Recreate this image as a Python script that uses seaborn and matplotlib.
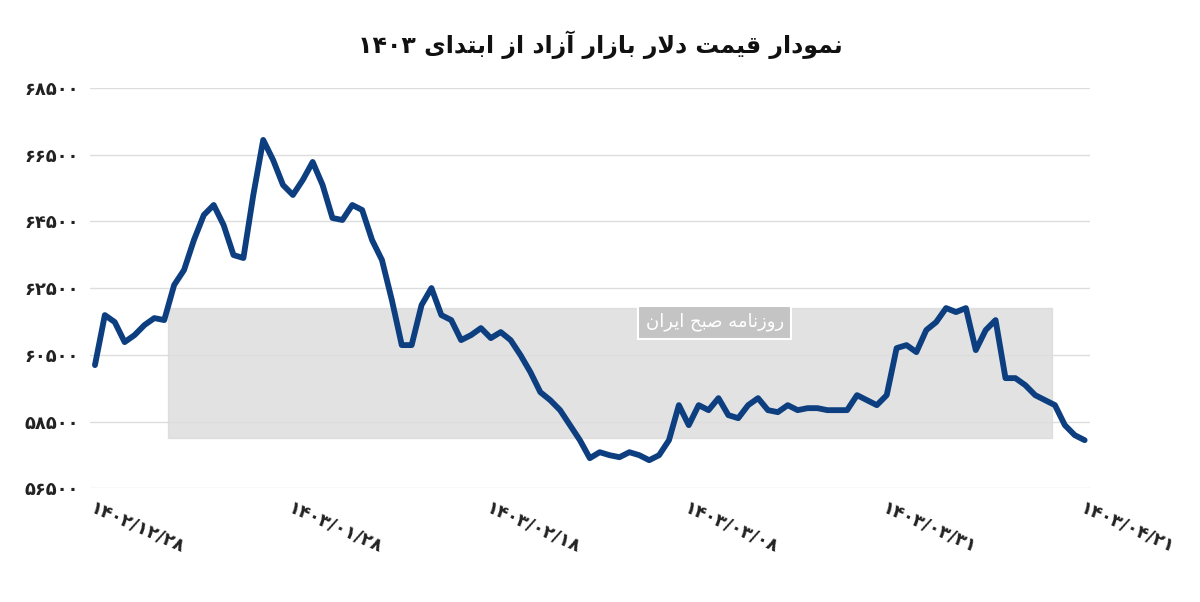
import numpy as np
import pandas as pd
import matplotlib
matplotlib.use("Agg")
import matplotlib.pyplot as plt
import seaborn as sns

# free-market dollar price (rial), trading days from 1402/12/28
price = [60190, 61690, 61480, 60880, 61090, 61390, 61600, 61540, 62590, 63040,
         63940, 64690, 64990, 64390, 63490, 63400, 65290, 66940, 66340, 65590,
         65290, 65740, 66280, 65590, 64600, 64540, 64990, 64840, 63940, 63340,
         62140, 60790, 60790, 61990, 62500, 61690, 61540, 60940, 61090, 61300,
         61000, 61180, 60940, 60490, 59980, 59380, 59140, 58840, 58390, 57940,
         57400, 57580, 57490, 57430, 57580, 57490, 57340, 57490, 57940, 58990,
         58390, 58990, 58840, 59200, 58690, 58600, 58990, 59200, 58840, 58780,
         58990, 58840, 58900, 58900, 58840, 58840, 58840, 59290, 59140, 58990,
         59290, 60700, 60790, 60580, 61240, 61480, 61900, 61780, 61900, 60640,
         61240, 61540, 59800, 59800, 59590, 59290, 59140, 58990, 58390, 58090,
         57940]
date_labels = ["۱۴۰۲/۱۲/۲۸", "۱۴۰۳/۰۱/۲۸", "۱۴۰۳/۰۲/۱۸",
               "۱۴۰۳/۰۳/۰۸", "۱۴۰۳/۰۳/۳۱", "۱۴۰۳/۰۴/۲۱"]
y_ticks = list(range(56500, 68501, 2000))

# minimal arabic shaping (matplotlib has no bidi / joining)
FORMS = {
    "ا": ("\uFE8D", "\uFE8E", None, None), "آ": ("\uFE81", "\uFE82", None, None),
    "ب": ("\uFE8F", "\uFE90", "\uFE91", "\uFE92"), "ت": ("\uFE95", "\uFE96", "\uFE97", "\uFE98"),
    "ح": ("\uFEA1", "\uFEA2", "\uFEA3", "\uFEA4"), "د": ("\uFEA9", "\uFEAA", None, None),
    "ر": ("\uFEAD", "\uFEAE", None, None), "ز": ("\uFEAF", "\uFEB0", None, None),
    "ص": ("\uFEB9", "\uFEBA", "\uFEBB", "\uFEBC"), "ق": ("\uFED5", "\uFED6", "\uFED7", "\uFED8"),
    "ل": ("\uFEDD", "\uFEDE", "\uFEDF", "\uFEE0"), "م": ("\uFEE1", "\uFEE2", "\uFEE3", "\uFEE4"),
    "ن": ("\uFEE5", "\uFEE6", "\uFEE7", "\uFEE8"), "ه": ("\uFEE9", "\uFEEA", "\uFEEB", "\uFEEC"),
    "و": ("\uFEED", "\uFEEE", None, None), "ی": ("\uFBFC", "\uFBFD", "\uFBFE", "\uFBFF"),
}


def shape_word(w):
    out = []
    i = 0
    while i < len(w):
        c = w[i]
        prev = w[i - 1] if i > 0 else None
        pj = prev in FORMS and FORMS[prev][2] is not None
        if c == "ل" and i + 1 < len(w) and w[i + 1] == "ا":
            out.append("\uFEFC" if pj else "\uFEFB")
            i += 2
            continue
        if c not in FORMS:
            out.append(c)
            i += 1
            continue
        nxt = w[i + 1] if i + 1 < len(w) else None
        nj = nxt in FORMS and FORMS[c][2] is not None
        iso, fin, ini, med = FORMS[c]
        if pj and nj:
            out.append(med)
        elif pj:
            out.append(fin)
        elif nj:
            out.append(ini)
        else:
            out.append(iso)
        i += 1
    return "".join(out)


def rtl(text):
    words = text.split(" ")
    vis = []
    for w in words:
        if w and "\u06F0" <= w[0] <= "\u06F9":
            vis.append(w)
        else:
            vis.append(shape_word(w)[::-1])
    return " ".join(vis[::-1])


sns.set_style("white")
plt.rcParams["font.family"] = ["DejaVu Sans", "Noto Sans"]

df = pd.DataFrame({"day": np.arange(len(price)), "price": price})

fig = plt.figure(figsize=(12, 6.02), dpi=100)
ax = fig.add_axes([0.075, 0.189, 0.833, 0.665])

# watermark band
ax.axhspan(58000, 61900, xmin=0.078, xmax=0.962, color="#d9d9d9", alpha=0.75, zorder=0)
ax.text(0.625, 0.415, rtl("روزنامه صبح ایران"), transform=ax.transAxes, ha="center",
        va="center", fontsize=13, color="white",
        bbox=dict(boxstyle="square,pad=0.4", fc="#c4c4c4", ec="white", lw=1.5), zorder=1)

sns.lineplot(data=df, x="day", y="price", ax=ax, color="#0d3f80", linewidth=4.2, zorder=3)
ax.lines[-1].set_solid_joinstyle("round")
ax.lines[-1].set_solid_capstyle("round")

ax.set_ylim(56500, 68500)
ax.set_xlim(-0.5, len(price) - 0.5)
ax.set_yticks(y_ticks)
fa = str.maketrans("0123456789", "۰۱۲۳۴۵۶۷۸۹")
ax.set_yticklabels([str(v).translate(fa) for v in y_ticks], fontsize=13, fontweight="bold",
                   color="#222222")
ax.yaxis.grid(True, color="#dddddd", lw=1)
pos = np.linspace(0, len(price) - 1, len(date_labels))
ax.set_xticks(pos)
ax.set_xticklabels(date_labels, rotation=-24, ha="left", rotation_mode="anchor",
                   fontsize=13, fontweight="bold", color="#222222")
ax.tick_params(axis="both", length=0, pad=8)
ax.set_xlabel("")
ax.set_ylabel("")
sns.despine(ax=ax, left=True, bottom=True)

fig.text(0.5, 0.925, rtl("نمودار قیمت دلار بازار آزاد از ابتدای ۱۴۰۳"), ha="center",
         va="center", fontsize=17, fontweight="bold", color="#111111")

fig.savefig("out.png", dpi=100)
